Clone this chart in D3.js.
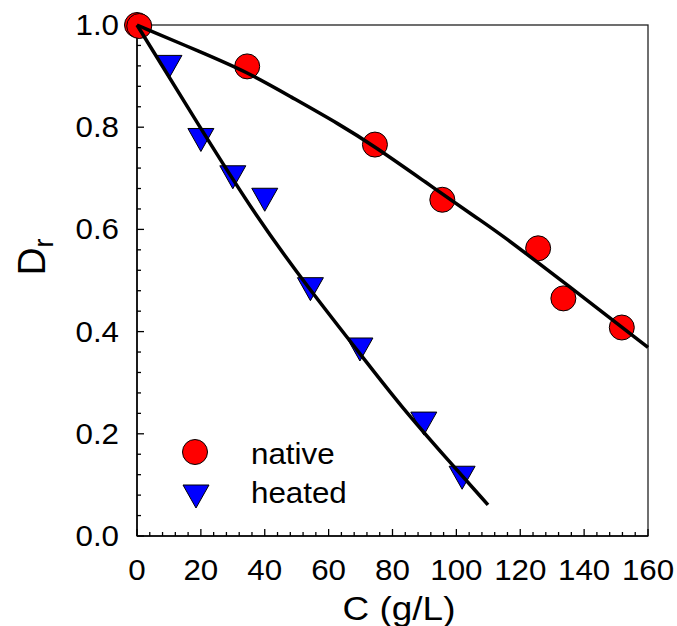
<!DOCTYPE html>
<html><head><meta charset="utf-8">
<script src="https://cdn.jsdelivr.net/npm/d3@7"></script>
<style>body{margin:0;background:#fff}svg{display:block}text{font-family:"Liberation Sans",Arial,sans-serif;fill:#000}</style>
</head><body>
<script>
const nativeC = [0, 0.7, 34.5, 74.5, 95.6, 125.6, 133.5, 151.8];
const nativeD = [1.0, 0.998, 0.919, 0.766, 0.658, 0.563, 0.465, 0.408];
const heatedC = [10, 20, 30, 40, 54.3, 69.8, 89.8, 101.8];
const heatedD = [0.918, 0.775, 0.702, 0.658, 0.483, 0.365, 0.220, 0.114];
const nativeFitC = [0, 20, 34.5, 48, 63.6, 74.5, 90, 107.4, 113.6, 135, 160];
const nativeFitD = [1.0, 0.947, 0.908, 0.86, 0.805, 0.762, 0.694, 0.618, 0.592, 0.49, 0.369];
const heatedFitC = [0, 19.7, 37.6, 54.2, 69.8, 82.3, 98.0, 109.9];
const heatedFitD = [1.0, 0.800, 0.622, 0.481, 0.357, 0.256, 0.144, 0.061];
const xTicks = [0, 20, 40, 60, 80, 100, 120, 140, 160];
const yTicks = [0.0, 0.2, 0.4, 0.6, 0.8, 1.0];
const legendLabels = ["native", "heated"];

const W = 677, H = 626;
const L = 137, R = 648, T = 25, B = 536;
const svg = d3.select("body").append("svg").attr("width", W).attr("height", H);
const x = d3.scaleLinear().domain([0, 160]).range([L, R]);
const y = d3.scaleLinear().domain([0, 1]).range([B, T]);

svg.append("rect").attr("x", L).attr("y", T).attr("width", R - L).attr("height", B - T)
  .attr("fill", "none").attr("stroke", "#222").attr("stroke-width", 1.3);

const xMinor = d3.range(0, 160.01, 4);
const yMinor = d3.range(0, 1.0001, 0.04);
const g = svg.append("g").attr("stroke", "#000").attr("stroke-width", 1.3);
xMinor.forEach(v => {
  const major = xTicks.some(t => Math.abs(t - v) < 1e-6);
  g.append("line").attr("x1", x(v)).attr("x2", x(v)).attr("y1", B).attr("y2", B - (major ? 7 : 4));
});
yMinor.forEach(v => {
  const major = yTicks.some(t => Math.abs(t - v) < 1e-6);
  g.append("line").attr("y1", y(v)).attr("y2", y(v)).attr("x1", L).attr("x2", L + (major ? 7 : 4));
});
svg.append("line").attr("x1", L).attr("x2", L).attr("y1", T).attr("y2", B).attr("stroke", "#000").attr("stroke-width", 1.5);
svg.append("line").attr("x1", L).attr("x2", R).attr("y1", B).attr("y2", B).attr("stroke", "#000").attr("stroke-width", 1.5);

const fs = 29, sx = 1.08;
xTicks.forEach(v => {
  svg.append("text").attr("transform", `translate(${x(v)},580) scale(${sx},1)`)
    .attr("text-anchor", "middle").style("font-size", fs + "px").text(v);
});
yTicks.forEach(v => {
  svg.append("text").attr("transform", `translate(119,${y(v) + 10}) scale(${sx},1)`)
    .attr("text-anchor", "end").style("font-size", fs + "px").text(v.toFixed(1));
});

svg.append("text").attr("transform", `translate(399,620) scale(1.12,1)`).attr("text-anchor", "middle")
  .style("font-size", "33px").text("C (g/L)");
const yl = svg.append("text").attr("transform", "translate(45,257) rotate(-90)").attr("text-anchor", "middle")
  .style("font-size", "39px");
yl.append("tspan").text("D");
yl.append("tspan").attr("dy", 8).style("font-size", "27px").text("r");

const tri = (cx, cy) => `M${cx - 13},${cy - 11.5}L${cx + 13},${cy - 11.5}L${cx},${cy + 11.5}Z`;
heatedC.forEach((c, i) => {
  svg.append("path").attr("d", tri(x(c), y(heatedD[i]))).attr("fill", "#0000ff").attr("stroke", "#000").attr("stroke-width", 1);
});
nativeC.forEach((c, i) => {
  svg.append("circle").attr("cx", x(c)).attr("cy", y(nativeD[i])).attr("r", 12.5)
    .attr("fill", "#ff0000").attr("stroke", "#000").attr("stroke-width", 1);
});

const line = d3.line().x(d => x(d[0])).y(d => y(d[1])).curve(d3.curveBasis);
svg.append("path").attr("d", line(nativeFitC.map((c, i) => [c, nativeFitD[i]])))
  .attr("fill", "none").attr("stroke", "#000").attr("stroke-width", 3.5);
svg.append("path").attr("d", line(heatedFitC.map((c, i) => [c, heatedFitD[i]])))
  .attr("fill", "none").attr("stroke", "#000").attr("stroke-width", 3.5);

svg.append("circle").attr("cx", 195).attr("cy", 452).attr("r", 12.5)
  .attr("fill", "#ff0000").attr("stroke", "#000").attr("stroke-width", 1);
svg.append("path").attr("d", tri(196, 496.5)).attr("fill", "#0000ff").attr("stroke", "#000").attr("stroke-width", 1);
svg.append("text").attr("transform", "translate(251,464) scale(1.08,1)").style("font-size", "29px").text(legendLabels[0]);
svg.append("text").attr("transform", "translate(251,503) scale(1.08,1)").style("font-size", "29px").text(legendLabels[1]);
</script>
</body></html>
